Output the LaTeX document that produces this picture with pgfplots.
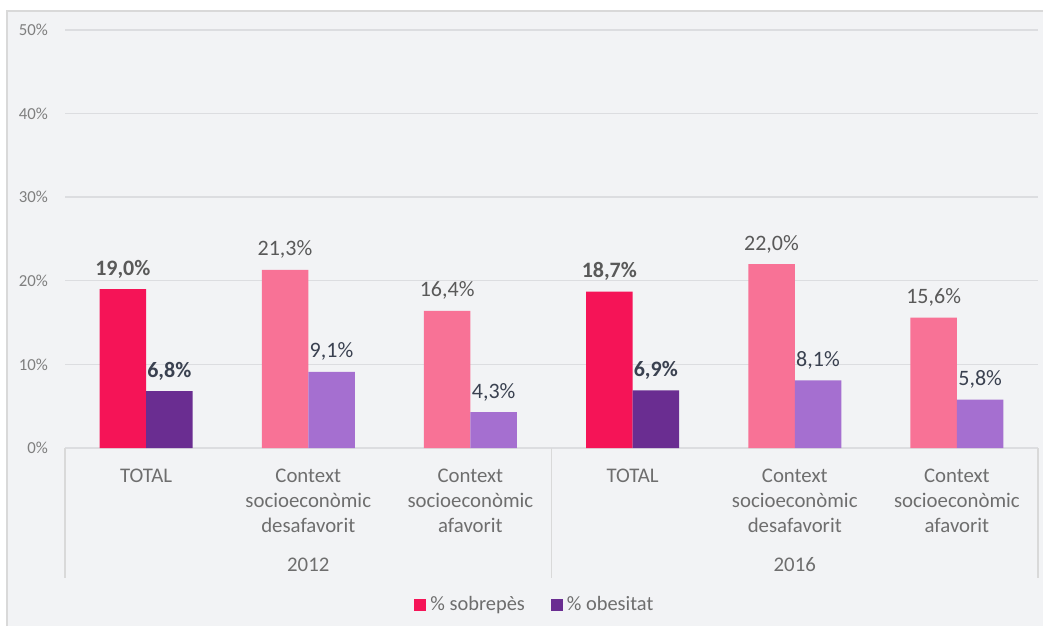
\documentclass[border=0pt]{standalone}
\usepackage{pgfplots}
\pgfplotsset{compat=1.18}
\usepackage{fontspec}
\setmainfont{Carlito}
\definecolor{bgc}{HTML}{F2F3F5}
\definecolor{bordc}{HTML}{D9D9D9}
\definecolor{gridc}{HTML}{DCDDE0}
\definecolor{sobT}{HTML}{F51457}
\definecolor{obeT}{HTML}{6A2D91}
\definecolor{sobC}{HTML}{F87296}
\definecolor{obeC}{HTML}{A56FD0}
\definecolor{tickc}{HTML}{7F7F7F}
\definecolor{catc}{HTML}{6E6E6E}
\definecolor{lsob}{HTML}{595959}
\definecolor{lobe}{HTML}{3A4150}
\begin{document}
\begin{tikzpicture}
\path[use as bounding box] (0,0) rectangle (521.5pt,313pt);
\fill[bgc] (3.5pt,0) rectangle (521.5pt,307.5pt);
\draw[bordc, line width=0.8pt] (3.5pt,0) -- (3.5pt,307.5pt) -- (521.5pt,307.5pt);
\begin{axis}[
  at={(32.5pt,89pt)}, anchor=south west,
  scale only axis, width=486.5pt, height=209pt,
  xmin=-0.5, xmax=5.5, ymin=0, ymax=50,
  clip=false,
  axis line style={draw=none},
  major tick length=0pt,
  ymajorgrids, grid style={gridc, line width=0.7pt},
  ytick={0,10,20,30,40,50},
  yticklabel={\pgfmathprintnumber{\tick}\%},
  /pgf/number format/assume math mode=true,
  yticklabel style={font=\fontsize{8.4}{10}\selectfont, text=tickc, anchor=east, xshift=-5pt},
  xtick={0,1,2,3,4,5},
  xticklabels={TOTAL,{Context\\socioeconòmic\\desafavorit},{Context\\socioeconòmic\\afavorit},TOTAL,{Context\\socioeconòmic\\desafavorit},{Context\\socioeconòmic\\afavorit}},
  xticklabel style={font=\fontsize{10.4}{12.5}\selectfont, text=catc, align=center, anchor=north, yshift=-7pt},
  legend style={at={(axis description cs:0.484,-0.3756)}, anchor=center, draw=none, fill=none,
    font=\fontsize{10.2}{12}\selectfont, text=catc, legend columns=2,
    /tikz/every even column/.append style={column sep=11pt}},
  legend image code/.code={\fill[#1] (0pt,-3pt) rectangle (6pt,3pt);},
  nodes near coords={\pgfmathprintnumber[fixed,fixed zerofill,precision=1,use comma]{\pgfplotspointmeta}\%},
  every node near coord/.append style={anchor=base, yshift=7pt, font=\fontsize{11}{13}\selectfont},
]
\addplot[ybar, bar width=23.25pt, bar shift=-11.625pt, fill=sobT, draw=none,
  every node near coord/.append style={text=lsob, xshift=-11.625pt, font=\fontsize{11}{13}\selectfont\bfseries}]
  coordinates {(0,19.0) (3,18.7)};
\addlegendentry{\% sobrepès}
\addplot[ybar, bar width=23.25pt, bar shift=11.625pt, fill=obeT, draw=none,
  every node near coord/.append style={text=lobe, xshift=11.625pt, font=\fontsize{11}{13}\selectfont\bfseries}]
  coordinates {(0,6.8) (3,6.9)};
\addlegendentry{\% obesitat}
\addplot[ybar, bar width=23.25pt, bar shift=-11.625pt, fill=sobC, draw=none, forget plot,
  every node near coord/.append style={text=lsob, xshift=-11.625pt}]
  coordinates {(1,21.3) (2,16.4) (4,22.0) (5,15.6)};
\addplot[ybar, bar width=23.25pt, bar shift=11.625pt, fill=obeC, draw=none, forget plot,
  every node near coord/.append style={text=lobe, xshift=11.625pt}]
  coordinates {(1,9.1) (2,4.3) (4,8.1) (5,5.8)};
\draw[bordc, line width=0.7pt] (axis cs:-0.5,0) -- ([yshift=-65pt]axis cs:-0.5,0);
\draw[bordc, line width=0.7pt] (axis cs:2.5,0) -- ([yshift=-65pt]axis cs:2.5,0);
\draw[bordc, line width=0.7pt] (axis cs:5.5,0) -- ([yshift=-65pt]axis cs:5.5,0);
\node[anchor=base, text=catc, font=\fontsize{10.4}{12.5}\selectfont] at ([yshift=-61.75pt]axis cs:1,0) {2012};
\node[anchor=base, text=catc, font=\fontsize{10.4}{12.5}\selectfont] at ([yshift=-61.75pt]axis cs:4,0) {2016};
\end{axis}
\end{tikzpicture}
\end{document}
